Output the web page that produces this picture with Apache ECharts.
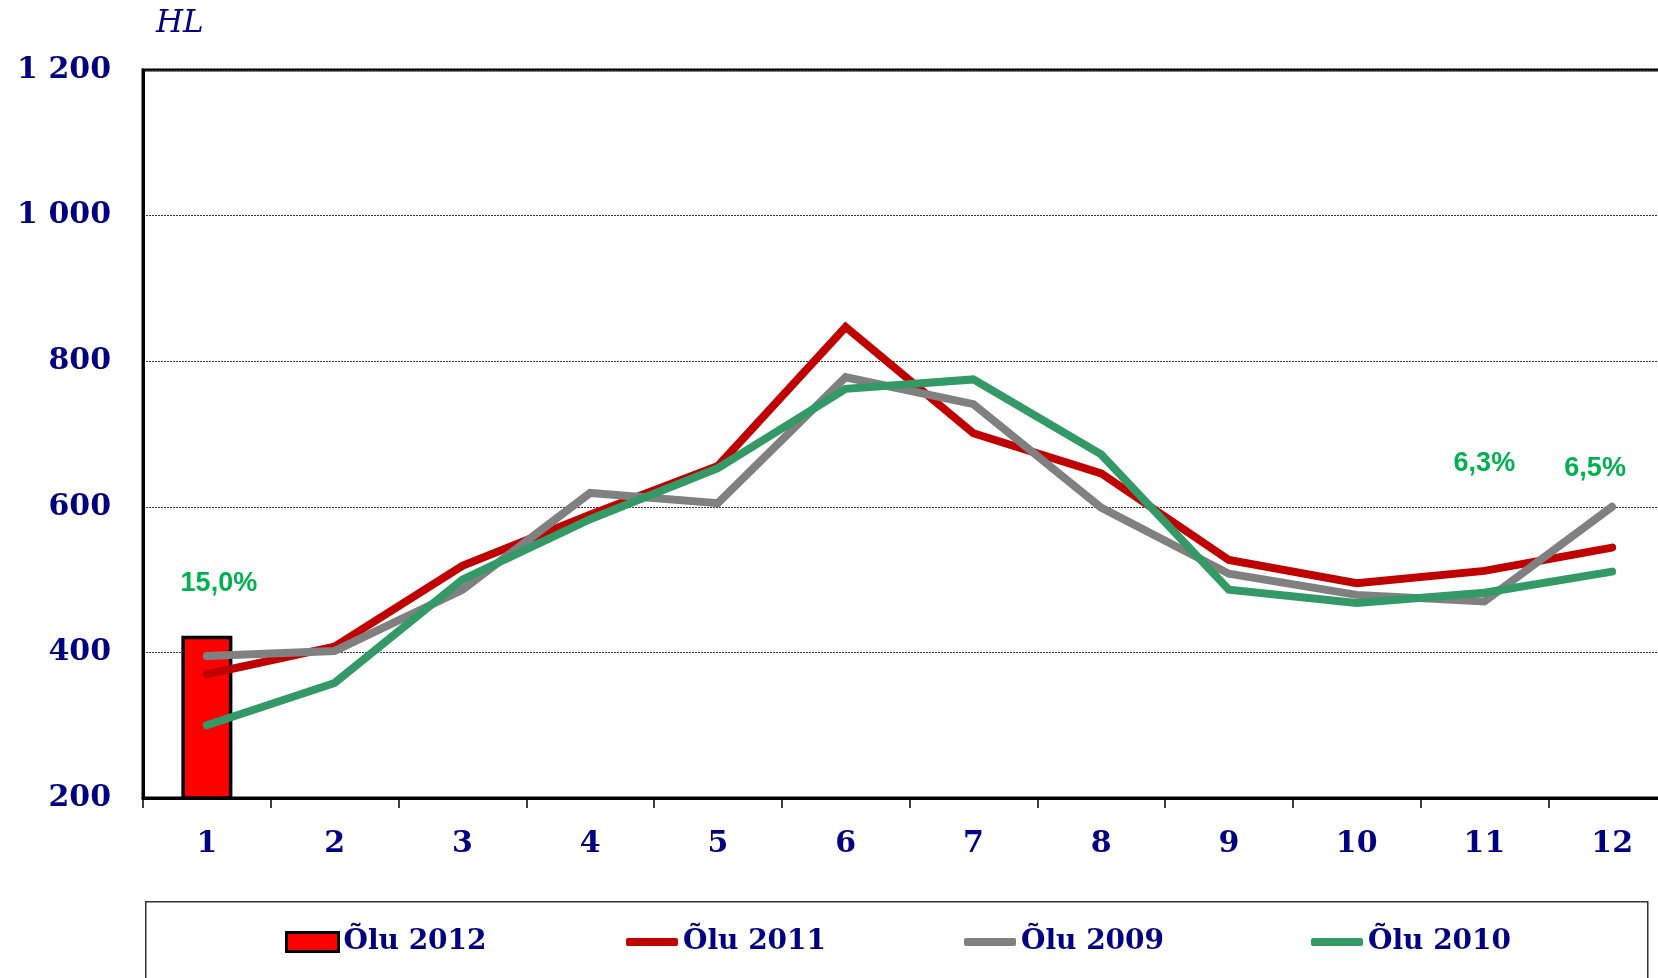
<!DOCTYPE html>
<html>
<head>
<meta charset="utf-8">
<script src="https://cdn.jsdelivr.net/npm/echarts@6/dist/echarts.min.js"></script>
<style>
  html, body { margin: 0; padding: 0; background: #fff; }
  #main { width: 1658px; height: 978px; }
</style>
</head>
<body>
<div id="main"></div>
<script>
// kuud
const months = ['1', '2', '3', '4', '5', '6', '7', '8', '9', '10', '11', '12'];

// HL, loetud pildilt
const olu2012 = [423, null, null, null, null, null, null, null, null, null, null, null];
const olu2011 = [370, 408, 519, 589, 656, 847, 701, 646, 527, 495, 512, 544];
const olu2009 = [395, 402, 486, 619, 605, 778, 741, 599, 508, 479, 470, 600];
const olu2010 = [300, 358, 500, 583, 653, 762, 775, 672, 486, 468, 482, 511];

// protsendimärkused
const noteMonths = ['1', '11', '12'];
const noteValues = [494, 660, 652];
const noteTexts = ['15,0%', '6,3%', '6,5%'];

const yTicks = [200, 400, 600, 800, 1000, 1200];

const navy = '#000080';
const serif = 'DejaVu Serif';

const chart = echarts.init(document.getElementById('main'), null, { renderer: 'canvas' });

const legendBase = {
  top: 928,
  padding: 0,
  itemGap: 0,
  itemWidth: 52,
  textStyle: { fontFamily: serif, fontWeight: 'bold', fontSize: 28, color: navy }
};

const noteOffsets = [[12, 0], [0, 0], [-17, 0]];

const option = {
  backgroundColor: '#fff',
  animation: false,
  grid: {
    left: 143, top: 70, width: 1533, height: 728,
    outerBoundsMode: 'none',
    containLabel: false,
    show: true, borderColor: '#000', borderWidth: 3, backgroundColor: 'transparent'
  },
  graphic: [
    {
      type: 'text', left: 156, top: 8,
      style: { text: 'HL', font: 'italic 31px "DejaVu Serif"', fill: navy }
    },
    {
      type: 'rect', left: 145, top: 901, z: -1,
      shape: { width: 1502, height: 100 },
      style: { fill: '#fff', stroke: '#333', lineWidth: 1.5 }
    }
  ],
  legend: [
    Object.assign({}, legendBase, {
      left: 285, itemHeight: 19,
      data: [{ name: 'Õlu 2012', icon: 'rect', itemStyle: { color: '#FF0000', borderColor: '#000', borderWidth: 3 } }]
    }),
    Object.assign({}, legendBase, { left: 626, data: [{ name: 'Õlu 2011', icon: 'roundRect' }], itemHeight: 8 }),
    Object.assign({}, legendBase, { left: 964, data: [{ name: 'Õlu 2009', icon: 'roundRect' }], itemHeight: 8 }),
    Object.assign({}, legendBase, { left: 1311, data: [{ name: 'Õlu 2010', icon: 'roundRect' }], itemHeight: 8 })
  ],
  xAxis: {
    type: 'category',
    data: months,
    axisLine: { lineStyle: { color: '#000', width: 3 } },
    axisTick: { show: true, length: 10, lineStyle: { color: '#000', width: 1.5 } },
    axisLabel: {
      margin: 31,
      fontFamily: serif, fontWeight: 'bold', fontSize: 30, color: navy
    },
    splitLine: { show: false }
  },
  yAxis: {
    type: 'value',
    min: yTicks[0],
    max: yTicks[yTicks.length - 1],
    interval: 200,
    axisLine: { show: true, lineStyle: { color: '#000', width: 3 } },
    axisTick: { show: false },
    axisLabel: {
      margin: 32,
      fontFamily: serif, fontWeight: 'bold', fontSize: 30, color: navy,
      formatter: v => v >= 1000 ? Math.floor(v / 1000) + ' ' + String(v % 1000).padStart(3, '0') : String(v)
    },
    splitLine: { show: true, lineStyle: { color: '#333', width: 1, type: [2, 1] } }
  },
  series: [
    {
      name: 'Õlu 2012',
      type: 'bar',
      data: olu2012,
      barWidth: 51,
      itemStyle: { color: '#FF0000', borderColor: '#000', borderWidth: 3.5 }
    },
    {
      name: 'Õlu 2011',
      type: 'line',
      data: olu2011,
      symbol: 'none',
      lineStyle: { color: '#C00000', width: 8, cap: 'round', join: 'miter' },
      itemStyle: { color: '#C00000' }
    },
    {
      name: 'Õlu 2009',
      type: 'line',
      data: olu2009,
      symbol: 'none',
      lineStyle: { color: '#808080', width: 8, cap: 'round', join: 'miter' },
      itemStyle: { color: '#808080' }
    },
    {
      name: 'Õlu 2010',
      type: 'line',
      data: olu2010,
      symbol: 'none',
      lineStyle: { color: '#339966', width: 8, cap: 'round', join: 'miter' },
      itemStyle: { color: '#339966' },
      markPoint: {
        symbol: 'circle',
        symbolSize: 0,
        data: noteMonths.map((m, i) => ({
          name: noteTexts[i],
          coord: [m, noteValues[i]],
          label: {
            show: true, position: 'inside', offset: noteOffsets[i],
            formatter: noteTexts[i],
            fontFamily: 'Liberation Sans', fontWeight: 'bold', fontSize: 27, color: '#00B050'
          }
        }))
      }
    }
  ]
};

chart.setOption(option);
</script>
</body>
</html>
